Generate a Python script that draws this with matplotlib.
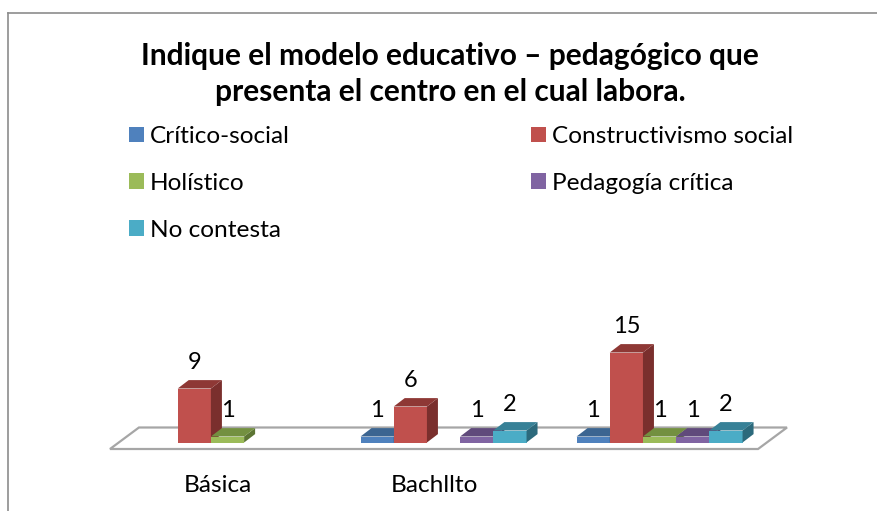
import matplotlib
matplotlib.use('Agg')
import matplotlib.pyplot as plt
from matplotlib.lines import Line2D
from matplotlib.patches import Polygon

categorias = ['Básica', 'Bachllto', '']
series = ['Crítico-social', 'Constructivismo social', 'Holístico', 'Pedagogía crítica', 'No contesta']
critico = [0, 1, 1]
constructivismo = [9, 6, 15]
holistico = [1, 0, 1]
pedagogia = [0, 1, 1]
no_contesta = [0, 2, 2]
valores = [critico, constructivismo, holistico, pedagogia, no_contesta]

colores = ['#4F81BD', '#C0504D', '#9BBB59', '#8064A2', '#4BACC6']
techos = ['#3C6591', '#8E3835', '#739040', '#604A7B', '#378197']
lados = ['#2F5078', '#7A2F2D', '#5C7533', '#4D3B63', '#2C6A7C']

W, H = 878, 511
plt.rcParams['font.family'] = ['Lato', 'DejaVu Sans']

fig = plt.figure(figsize=(W / 100, H / 100), dpi=100)
ax = fig.add_axes([110 / W, 1 - 449 / H, (787 - 110) / W, (449 - 300) / H])
ax.set_xlim(-0.5, 2.634)
ax.set_ylim(-1.083, 23.75)
for s in ax.spines.values():
    s.set_visible(False)
ax.set_yticks([])
ax.set_xticks(range(3), categorias, fontsize=17.6)
ax.tick_params(axis='x', length=0, pad=19)

# piso del grafico 3D
piso = Polygon([(-0.5, -1.083), (2.5, -1.083), (2.634, 2.5), (-0.366, 2.5)],
               closed=True, fc='white', ec='#A6A6A6', lw=1.6, clip_on=False, zorder=1)
ax.add_patch(piso)

ancho = 33.2 / 216
dx = 11 / 216
dy = 1.4
orden = 2
for i in range(3):
    for k in range(5):
        v = valores[k][i]
        xc = i + 0.044 + (k - 2) * ancho
        x0 = xc - ancho / 2
        x1 = xc + ancho / 2
        if v > 0:
            ax.bar(xc, v, ancho, color=colores[k], zorder=orden)
            ax.add_patch(Polygon([(x1, 0), (x1 + dx, dy), (x1 + dx, v + dy), (x1, v)],
                                 fc=lados[k], ec='none', zorder=orden))
            ax.add_patch(Polygon([(x0, v), (x1, v), (x1 + dx, v + dy), (x0 + dx, v + dy)],
                                 fc=techos[k], ec='none', zorder=orden))
            ax.annotate(str(v), (xc, v), xytext=(0, 18.5), textcoords='offset points',
                        ha='center', va='center', fontsize=17, color='black', zorder=50)
        orden += 1

# leyenda con cuadros de color
h = [Polygon([(0, 0)], fc=c, ec='none') for c in colores]
idx = [0, 2, 4, 1, 3]
fig.legend([h[j] for j in idx], [series[j] for j in idx], ncols=2, frameon=False,
           loc='upper left', bbox_to_anchor=(129 / W, 1 - 126 / H), borderaxespad=0,
           borderpad=0, fontsize=17.6, handlelength=0.61, handleheight=0.61,
           handletextpad=0.25, labelspacing=1.06, columnspacing=9.88)

fig.text(450 / W, 1 - 74 / H, 'Indique el modelo educativo – pedagógico que\npresenta el centro en el cual labora.',
         ha='center', va='center', fontsize=21.5, fontweight='bold', linespacing=1.35)

# marco exterior (solo arriba e izquierda)
fig.add_artist(Line2D([8 / W, 8 / W], [0, 1 - 13 / H], color='#8C8C8C', lw=1.2))
fig.add_artist(Line2D([8 / W, 1], [1 - 13 / H, 1 - 13 / H], color='#8C8C8C', lw=1.2))

fig.savefig('out.png', dpi=100)
